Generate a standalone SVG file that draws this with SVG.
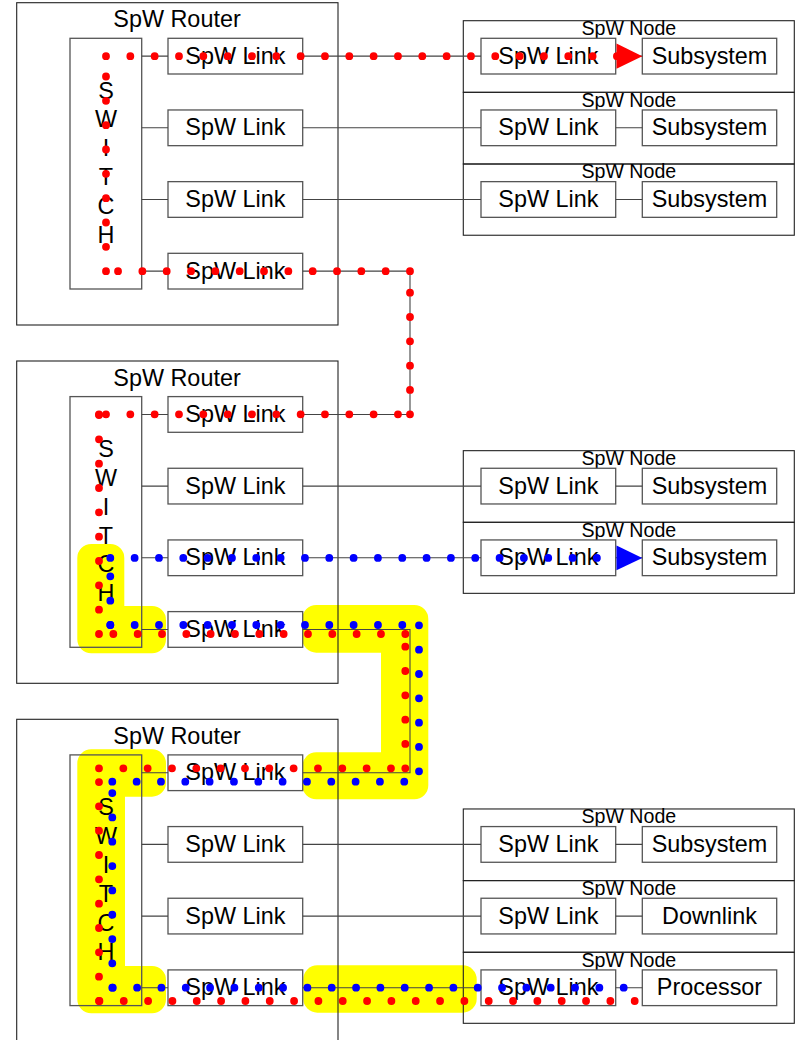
<svg xmlns="http://www.w3.org/2000/svg" width="802" height="1040" viewBox="0 0 802 1040">
<style>
text{font-family:"Liberation Sans",Arial,sans-serif;fill:#000;text-anchor:middle}
.t{font-size:23.4px}
.tn{font-size:19.6px}
.outer{fill:none;stroke:#222;stroke-width:1.1}
.box{fill:#fff;stroke:#555;stroke-width:1.3}
.sw{fill:none;stroke:#555;stroke-width:1.3}
.ln{fill:none;stroke:#444;stroke-width:1.1}
.rd{fill:none;stroke:#ff0000;stroke-width:7.8;stroke-linecap:round;stroke-dasharray:0 24.33}
.bd{fill:none;stroke:#0000ff;stroke-width:7.8;stroke-linecap:round;stroke-dasharray:0 24.33}
.hl{fill:#ffff00;stroke:none}
</style>
<g id="highlights">
<path class="hl" d="M91.3 544 H110.3 A14 14 0 0 1 124.3 558 V606 H152 A14 14 0 0 1 166 620 V639.3 A14 14 0 0 1 152 653.3 H91.3 A14 14 0 0 1 77.3 639.3 V558 A14 14 0 0 1 91.3 544 Z"/>
<path class="hl" d="M316.3 605 H414.3 A14 14 0 0 1 428.3 619 V785.3 A14 14 0 0 1 414.3 799.3 H316.3 A14 14 0 0 1 302.3 785.3 V766.3 A14 14 0 0 1 316.3 752.3 H381 V652.7 H316.3 A14 14 0 0 1 302.3 638.7 V619 A14 14 0 0 1 316.3 605 Z"/>
<path class="hl" d="M91.3 749.3 H152 A14 14 0 0 1 166 763.3 V782.7 A14 14 0 0 1 152 796.7 H125 V966 H152 A14 14 0 0 1 166 980 V999.3 A14 14 0 0 1 152 1013.3 H91.3 A14 14 0 0 1 77.3 999.3 V763.3 A14 14 0 0 1 91.3 749.3 Z"/>
<rect class="hl" x="303.3" y="965.3" width="173.4" height="47.4" rx="14"/>
</g>
<g id="router1">
<rect class="outer" x="16.7" y="2.7" width="321.3" height="322.3"/>
<text class="t" x="177" y="27.3">SpW Router</text>
</g>
<g id="router2">
<rect class="outer" x="16.7" y="361" width="321.3" height="322.3"/>
<text class="t" x="177" y="385.6">SpW Router</text>
</g>
<g id="router3">
<rect class="outer" x="16.7" y="719.3" width="321.3" height="322.3"/>
<text class="t" x="177" y="743.9">SpW Router</text>
</g>
<g id="switch1">
<rect class="sw" x="70" y="38.3" width="71.7" height="250.7"/>
<text class="t" x="106" y="98.5">S</text><text class="t" x="106" y="127.4">W</text><text class="t" x="106" y="156.3">I</text><text class="t" x="106" y="185.2">T</text><text class="t" x="106" y="214.1">C</text><text class="t" x="106" y="243">H</text>
</g>
<g id="switch2">
<rect class="sw" x="70" y="396.6" width="71.7" height="250.7"/>
<text class="t" x="106" y="456.8">S</text><text class="t" x="106" y="485.7">W</text><text class="t" x="106" y="514.6">I</text><text class="t" x="106" y="543.5">T</text><text class="t" x="106" y="572.4">C</text><text class="t" x="106" y="601.3">H</text>
</g>
<g id="switch3">
<rect class="sw" x="70" y="754.9" width="71.7" height="250.7"/>
<text class="t" x="106" y="815.1">S</text><text class="t" x="106" y="844">W</text><text class="t" x="106" y="872.9">I</text><text class="t" x="106" y="901.8">T</text><text class="t" x="106" y="930.7">C</text><text class="t" x="106" y="959.6">H</text>
</g>
<g id="r1-link1" transform="translate(168,38.3)"><rect class="box" width="134.7" height="35.7"/><text class="t" x="67.35" y="25.4">SpW Link</text></g>
<g id="r1-link2" transform="translate(168,109.97)"><rect class="box" width="134.7" height="35.7"/><text class="t" x="67.35" y="25.4">SpW Link</text></g>
<g id="r1-link3" transform="translate(168,181.64)"><rect class="box" width="134.7" height="35.7"/><text class="t" x="67.35" y="25.4">SpW Link</text></g>
<g id="r1-link4" transform="translate(168,253.31)"><rect class="box" width="134.7" height="35.7"/><text class="t" x="67.35" y="25.4">SpW Link</text></g>
<g id="r2-link1" transform="translate(168,396.6)"><rect class="box" width="134.7" height="35.7"/><text class="t" x="67.35" y="25.4">SpW Link</text></g>
<g id="r2-link2" transform="translate(168,468.27)"><rect class="box" width="134.7" height="35.7"/><text class="t" x="67.35" y="25.4">SpW Link</text></g>
<g id="r2-link3" transform="translate(168,539.94)"><rect class="box" width="134.7" height="35.7"/><text class="t" x="67.35" y="25.4">SpW Link</text></g>
<g id="r2-link4" transform="translate(168,611.61)"><rect class="box" width="134.7" height="35.7"/><text class="t" x="67.35" y="25.4">SpW Link</text></g>
<g id="r3-link1" transform="translate(168,754.9)"><rect class="box" width="134.7" height="35.7"/><text class="t" x="67.35" y="25.4">SpW Link</text></g>
<g id="r3-link2" transform="translate(168,826.57)"><rect class="box" width="134.7" height="35.7"/><text class="t" x="67.35" y="25.4">SpW Link</text></g>
<g id="r3-link3" transform="translate(168,898.24)"><rect class="box" width="134.7" height="35.7"/><text class="t" x="67.35" y="25.4">SpW Link</text></g>
<g id="r3-link4" transform="translate(168,969.91)"><rect class="box" width="134.7" height="35.7"/><text class="t" x="67.35" y="25.4">SpW Link</text></g>
<g id="node1" transform="translate(463.3,20.7)"><rect class="outer" width="331" height="71.6"/><text class="tn" x="165.5" y="14.3">SpW Node</text>
<g id="node1-link"><rect class="box" x="17.7" y="17.6" width="134.7" height="35.7"/><text class="t" x="85.05" y="43">SpW Link</text></g>
<g id="node1-sub"><rect class="box" x="179" y="17.6" width="134.4" height="35.7"/><text class="t" x="246.2" y="43">Subsystem</text></g></g>
<g id="node2" transform="translate(463.3,92.37)"><rect class="outer" width="331" height="71.6"/><text class="tn" x="165.5" y="14.3">SpW Node</text>
<g id="node2-link"><rect class="box" x="17.7" y="17.6" width="134.7" height="35.7"/><text class="t" x="85.05" y="43">SpW Link</text></g>
<g id="node2-sub"><rect class="box" x="179" y="17.6" width="134.4" height="35.7"/><text class="t" x="246.2" y="43">Subsystem</text></g></g>
<g id="node3" transform="translate(463.3,164.04)"><rect class="outer" width="331" height="71.2"/><text class="tn" x="165.5" y="14.3">SpW Node</text>
<g id="node3-link"><rect class="box" x="17.7" y="17.6" width="134.7" height="35.7"/><text class="t" x="85.05" y="43">SpW Link</text></g>
<g id="node3-sub"><rect class="box" x="179" y="17.6" width="134.4" height="35.7"/><text class="t" x="246.2" y="43">Subsystem</text></g></g>
<g id="node4" transform="translate(463.3,450.67)"><rect class="outer" width="331" height="71.6"/><text class="tn" x="165.5" y="14.3">SpW Node</text>
<g id="node4-link"><rect class="box" x="17.7" y="17.6" width="134.7" height="35.7"/><text class="t" x="85.05" y="43">SpW Link</text></g>
<g id="node4-sub"><rect class="box" x="179" y="17.6" width="134.4" height="35.7"/><text class="t" x="246.2" y="43">Subsystem</text></g></g>
<g id="node5" transform="translate(463.3,522.34)"><rect class="outer" width="331" height="71"/><text class="tn" x="165.5" y="14.3">SpW Node</text>
<g id="node5-link"><rect class="box" x="17.7" y="17.6" width="134.7" height="35.7"/><text class="t" x="85.05" y="43">SpW Link</text></g>
<g id="node5-sub"><rect class="box" x="179" y="17.6" width="134.4" height="35.7"/><text class="t" x="246.2" y="43">Subsystem</text></g></g>
<g id="node6" transform="translate(463.3,808.97)"><rect class="outer" width="331" height="71.6"/><text class="tn" x="165.5" y="14.3">SpW Node</text>
<g id="node6-link"><rect class="box" x="17.7" y="17.6" width="134.7" height="35.7"/><text class="t" x="85.05" y="43">SpW Link</text></g>
<g id="node6-sub"><rect class="box" x="179" y="17.6" width="134.4" height="35.7"/><text class="t" x="246.2" y="43">Subsystem</text></g></g>
<g id="node7" transform="translate(463.3,880.64)"><rect class="outer" width="331" height="71.6"/><text class="tn" x="165.5" y="14.3">SpW Node</text>
<g id="node7-link"><rect class="box" x="17.7" y="17.6" width="134.7" height="35.7"/><text class="t" x="85.05" y="43">SpW Link</text></g>
<g id="node7-sub"><rect class="box" x="179" y="17.6" width="134.4" height="35.7"/><text class="t" x="246.2" y="43">Downlink</text></g></g>
<g id="node8" transform="translate(463.3,952.31)"><rect class="outer" width="331" height="71"/><text class="tn" x="165.5" y="14.3">SpW Node</text>
<g id="node8-link"><rect class="box" x="17.7" y="17.6" width="134.7" height="35.7"/><text class="t" x="85.05" y="43">SpW Link</text></g>
<g id="node8-sub"><rect class="box" x="179" y="17.6" width="134.4" height="35.7"/><text class="t" x="246.2" y="43">Processor</text></g></g>
<g id="connectors">
<path class="ln" d="M141.7 56.15 H168 M141.7 127.82 H168 M141.7 199.49 H168 M141.7 271.16 H168"/>
<path class="ln" d="M141.7 414.45 H168 M141.7 486.12 H168 M141.7 557.79 H168 M141.7 629.46 H168"/>
<path class="ln" d="M141.7 772.75 H168 M141.7 844.42 H168 M141.7 916.09 H168 M141.7 987.76 H168"/>
<path class="ln" d="M302.7 56.15 H481 M302.7 127.82 H481 M302.7 199.49 H481 M302.7 486.12 H481 M302.7 557.79 H481 M302.7 844.42 H481 M302.7 916.09 H481 M302.7 987.76 H481"/>
<path class="ln" d="M615.7 56.15 H642.3 M615.7 127.82 H642.3 M615.7 199.49 H642.3 M615.7 486.12 H642.3 M615.7 557.79 H642.3 M615.7 844.42 H642.3 M615.7 916.09 H642.3 M615.7 987.76 H642.3"/>
<path class="ln" d="M302.7 271.16 H410 V414.45 H302.7"/>
<path class="ln" d="M302.7 629.46 H410 V772.75 H302.7"/>
</g>
<g id="route-red">
<path class="rd" d="M634.7 1001 H99"/>
<path class="rd" d="M99 1001 V768.5"/>
<path class="rd" d="M99 768.3 H405"/>
<path class="rd" d="M405.3 768.3 V634.5"/>
<path class="rd" d="M405.3 634 H99.5"/>
<path class="rd" d="M99 634 V414.6"/>
<path class="rd" d="M99 414.3 H99.5"/>
<path class="rd" d="M106 414.3 H409.5"/>
<path class="rd" d="M410 414.3 V271.5"/>
<path class="rd" d="M410 271.16 H106.5"/>
<path class="rd" d="M106 271.16 V56.5"/>
<path class="rd" d="M106 56.15 H618"/>
<polygon fill="#ff0000" points="616.5,43.5 642.3,56.15 616.5,68.8"/>
</g>
<g id="route-blue">
<path class="bd" d="M623.7 987.7 H112.3"/>
<path class="bd" d="M112.3 987.7 V782"/>
<path class="bd" d="M112.3 781.7 H418"/>
<path class="bd" d="M419 771.3 V624.5"/>
<path class="bd" d="M402.3 625 H110"/>
<path class="bd" d="M110.3 625 V558.3"/>
<path class="bd" d="M110.3 557.9 H605"/>
<polygon fill="#0000ff" points="616.5,545.5 642.3,557.9 616.5,570.3"/>
</g>
</svg>
